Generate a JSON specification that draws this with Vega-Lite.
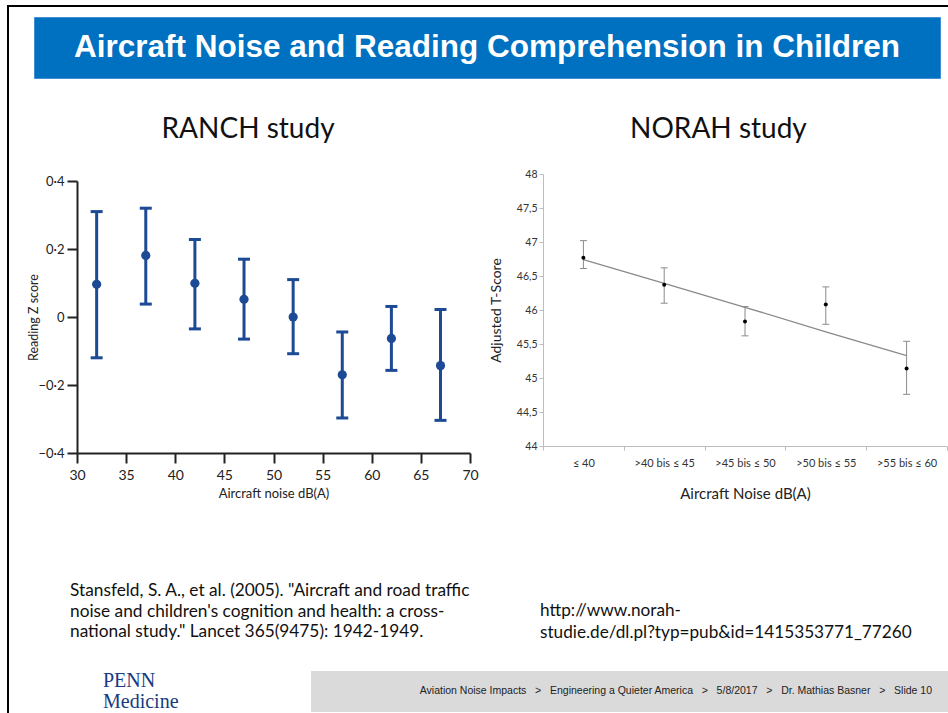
{
  "$schema": "https://vega.github.io/schema/vega-lite/v6.json",
  "background": "white",
  "padding": {"left": 7, "top": 5, "right": 0, "bottom": 0},
  "config": {"view": {"stroke": null}, "concat": {"spacing": 0}},
  "datasets": {
    "ranch": [
      {"noise": 32, "z": 0.096, "lo": -0.12, "hi": 0.31},
      {"noise": 37, "z": 0.181, "lo": 0.038, "hi": 0.32},
      {"noise": 42, "z": 0.099, "lo": -0.035, "hi": 0.228},
      {"noise": 47, "z": 0.052, "lo": -0.065, "hi": 0.17},
      {"noise": 52, "z": 0.0, "lo": -0.108, "hi": 0.11},
      {"noise": 57, "z": -0.17, "lo": -0.297, "hi": -0.044},
      {"noise": 62, "z": -0.063, "lo": -0.157, "hi": 0.031},
      {"noise": 67, "z": -0.143, "lo": -0.304, "hi": 0.022}
    ],
    "norah": [
      {"cat": "≤ 40", "t": 46.77, "lo": 46.61, "hi": 47.02, "trend": 46.74},
      {"cat": ">40 bis ≤ 45", "t": 46.37, "lo": 46.10, "hi": 46.62, "trend": 46.39},
      {"cat": ">45 bis ≤ 50", "t": 45.83, "lo": 45.62, "hi": 46.05, "trend": 46.04},
      {"cat": ">50 bis ≤ 55", "t": 46.08, "lo": 45.79, "hi": 46.34, "trend": 45.68},
      {"cat": ">55 bis ≤ 60", "t": 45.14, "lo": 44.76, "hi": 45.54, "trend": 45.33}
    ],
    "empty": []
  },
  "spacing": 0,
  "vconcat": [
    {"width": 941, "height": 2, "view": {"fill": "black"}, "data": {"name": "empty"}, "mark": "text"},
    {
      "spacing": 17,
      "hconcat": [
        {"width": 2, "height": 706, "view": {"fill": "black"}, "data": {"name": "empty"}, "mark": "text"},
        {
          "spacing": 0,
          "vconcat": [
            {"width": 1, "height": 9, "data": {"name": "empty"}, "mark": "text"},
            {
              "spacing": 0,
              "hconcat": [
                {"width": 7, "height": 99, "data": {"name": "empty"}, "mark": "text"},
                {
                  "width": 906, "height": 61,
                  "view": {"fill": "#0070C0", "stroke": "#3F8FD2", "strokeWidth": 1},
                  "data": {"values": [{"heading": "Aircraft Noise and Reading Comprehension in Children"}]},
                  "mark": {"type": "text", "font": "Liberation Sans", "fontWeight": "bold", "fontSize": 31.5, "color": "white", "align": "center", "baseline": "middle"},
                  "encoding": {"text": {"field": "heading"}}
                }
              ]
            },
            {
              "spacing": 0,
              "hconcat": [
                {"width": 1, "height": 1, "data": {"name": "empty"}, "mark": "text"},
                {
                  "spacing": 10,
                  "hconcat": [
                    {
                      "width": 393, "height": 279,
                      "title": {"text": "RANCH study", "font": "Lato", "fontSize": 28, "fontWeight": "normal", "color": "#111", "offset": 30, "frame": "bounds", "dx": -5},
                      "data": {"name": "ranch"},
                      "layer": [
                        {
                          "mark": {"type": "rule", "strokeWidth": 3, "color": "#1D4A94"},
                          "encoding": {
                            "x": {"field": "noise", "type": "quantitative", "scale": {"domain": [30, 70], "nice": false, "zero": false},
                              "axis": {"values": [30, 35, 40, 45, 50, 55, 60, 65, 70], "title": "Aircraft noise dB(A)", "grid": false, "tickSize": 10, "tickWidth": 2, "domainWidth": 2, "domainColor": "#222", "tickColor": "#222", "labelFont": "Lato", "labelFontSize": 14, "labelColor": "#222", "labelPadding": 5, "labelFlush": false, "titleFont": "Lato", "titleFontSize": 13, "titleFontWeight": "normal", "titleColor": "#222", "titlePadding": 5}},
                            "y": {"field": "lo", "type": "quantitative", "scale": {"domain": [-0.4, 0.4], "nice": false, "range": [279, 7]},
                              "axis": {"values": [-0.4, -0.2, 0, 0.2, 0.4], "labelExpr": "datum.value == 0 ? '0' : replace(format(datum.value, '.1f'), '.', '·')", "title": "Reading Z score", "grid": false, "tickSize": 10, "tickWidth": 2, "domainWidth": 2, "domainColor": "#222", "tickColor": "#222", "labelFont": "Lato", "labelFontSize": 13, "labelColor": "#222", "labelPadding": 3, "labelFlush": false, "titleFont": "Lato", "titleFontSize": 12.5, "titleFontWeight": "normal", "titleColor": "#222", "titlePadding": -3}},
                            "y2": {"field": "hi"}
                          }
                        },
                        {
                          "mark": {"type": "tick", "orient": "horizontal", "size": 12, "thickness": 3, "color": "#1D4A94", "opacity": 1},
                          "encoding": {"x": {"field": "noise", "type": "quantitative"}, "y": {"field": "hi", "type": "quantitative"}}
                        },
                        {
                          "mark": {"type": "tick", "orient": "horizontal", "size": 12, "thickness": 3, "color": "#1D4A94", "opacity": 1},
                          "encoding": {"x": {"field": "noise", "type": "quantitative"}, "y": {"field": "lo", "type": "quantitative"}}
                        },
                        {
                          "mark": {"type": "point", "filled": true, "size": 85, "color": "#1D4A94", "opacity": 1},
                          "encoding": {"x": {"field": "noise", "type": "quantitative"}, "y": {"field": "z", "type": "quantitative"}}
                        }
                      ]
                    },
                    {
                      "width": 404, "height": 272,
                      "title": {"text": "NORAH study", "font": "Lato", "fontSize": 28, "fontWeight": "normal", "color": "#111", "offset": 25, "frame": "bounds"},
                      "data": {"name": "norah"},
                      "encoding": {
                        "x": {"field": "cat", "type": "nominal", "sort": null, "scale": {"type": "band", "paddingInner": 0, "paddingOuter": 0},
                          "axis": {"title": "Aircraft Noise dB(A)", "labelAngle": 0, "tickBand": "extent", "tickSize": 4, "domainColor": "#bdbdbd", "tickColor": "#bdbdbd", "labelFont": "Lato", "labelFontSize": 11, "labelColor": "#333", "labelPadding": 7, "titleFont": "Lato", "titleFontSize": 15, "titleFontWeight": "normal", "titleColor": "#222", "titlePadding": 18}},
                        "y": {"type": "quantitative", "scale": {"domain": [44, 48], "nice": false, "zero": false},
                          "axis": {"values": [44, 44.5, 45, 45.5, 46, 46.5, 47, 47.5, 48], "format": ".1~f", "labelExpr": "replace(datum.label, '.', ',')", "labelOverlap": false, "labelSeparation": 0, "title": "Adjusted T-Score", "grid": false, "tickSize": 4, "domainColor": "#bdbdbd", "tickColor": "#bdbdbd", "labelFont": "Lato", "labelFontSize": 10.5, "labelColor": "#333", "labelPadding": 2, "titleFont": "Lato", "titleFontSize": 14, "titleFontWeight": "normal", "titleColor": "#222", "titlePadding": 13}}
                      },
                      "layer": [
                        {
                          "mark": {"type": "line", "color": "#8a8a8a", "strokeWidth": 1.3},
                          "encoding": {"y": {"field": "trend"}}
                        },
                        {
                          "mark": {"type": "rule", "color": "#8a8a8a", "strokeWidth": 1},
                          "encoding": {"y": {"field": "lo"}, "y2": {"field": "hi"}}
                        },
                        {
                          "mark": {"type": "tick", "orient": "horizontal", "size": 7, "thickness": 1, "color": "#8a8a8a", "opacity": 1},
                          "encoding": {"y": {"field": "hi"}}
                        },
                        {
                          "mark": {"type": "tick", "orient": "horizontal", "size": 7, "thickness": 1, "color": "#8a8a8a", "opacity": 1},
                          "encoding": {"y": {"field": "lo"}}
                        },
                        {
                          "mark": {"type": "point", "filled": true, "size": 16, "color": "black", "opacity": 1},
                          "encoding": {"y": {"field": "t"}}
                        }
                      ]
                    }
                  ]
                }
              ]
            },
            {
              "spacing": 0,
              "hconcat": [
                {"width": 44, "height": 170, "data": {"name": "empty"}, "mark": "text"},
                {
                  "width": 470, "height": 170,
                  "data": {"values": [{"ref": "Stansfeld, S. A., et al. (2005). \"Aircraft and road traffic\nnoise and children's cognition and health: a cross-\nnational study.\" Lancet 365(9475): 1942-1949."}]},
                  "mark": {"type": "text", "align": "left", "baseline": "top", "x": 0, "y": 81, "font": "Lato", "fontSize": 17.3, "lineHeight": 20.5, "color": "#111", "lineBreak": "\n"},
                  "encoding": {"text": {"field": "ref"}}
                },
                {
                  "width": 400, "height": 170,
                  "data": {"values": [{"ref": "http://www.norah-\nstudie.de/dl.pl?typ=pub&id=1415353771_77260"}]},
                  "mark": {"type": "text", "align": "left", "baseline": "top", "x": 0, "y": 101, "font": "Lato", "fontSize": 17.2, "lineHeight": 21.5, "color": "#111", "lineBreak": "\n"},
                  "encoding": {"text": {"field": "ref"}}
                }
              ]
            },
            {
              "spacing": 0,
              "hconcat": [
                {
                  "width": 285, "height": 41,
                  "data": {"values": [{"logo": "PENN\nMedicine"}]},
                  "mark": {"type": "text", "align": "left", "baseline": "top", "x": 77, "y": 0, "font": "Liberation Serif", "fontSize": 20, "lineHeight": 20.5, "color": "#173B82", "lineBreak": "\n"},
                  "encoding": {"text": {"field": "logo"}}
                },
                {
                  "width": 637, "height": 41,
                  "view": {"fill": "#DADADA"},
                  "data": {"values": [{"crumb": "Aviation Noise Impacts \u00a0\u00a0>\u00a0\u00a0 Engineering a Quieter America \u00a0\u00a0>\u00a0\u00a0 5/8/2017 \u00a0\u00a0>\u00a0\u00a0 Dr. Mathias Basner \u00a0\u00a0>\u00a0\u00a0 Slide 10"}]},
                  "mark": {"type": "text", "align": "right", "baseline": "middle", "x": 621, "y": 20, "font": "Liberation Sans", "fontSize": 10.5, "color": "#222"},
                  "encoding": {"text": {"field": "crumb"}}
                }
              ]
            }
          ]
        }
      ]
    }
  ]
}
